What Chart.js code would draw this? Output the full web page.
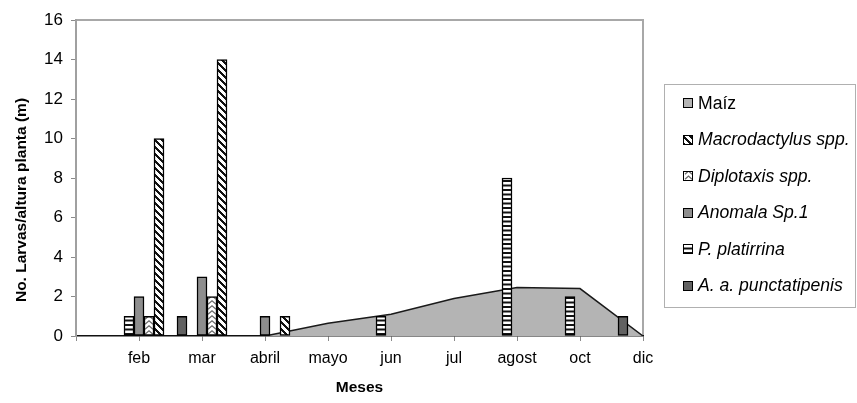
<!DOCTYPE html>
<html>
<head>
<meta charset="utf-8">
<script src="https://cdn.jsdelivr.net/npm/chart.js@4.4.1/dist/chart.umd.min.js"></script>
<style>
  html, body { margin: 0; padding: 0; background: #fff; }
  #wrap { width: 857px; height: 403px; }
</style>
</head>
<body>
<div id="wrap"><canvas id="c" width="857" height="403"></canvas></div>
<script>
// Months on the category axis (the first slot is left blank)
const months = ['', 'feb', 'mar', 'abril', 'mayo', 'jun', 'jul', 'agost', 'oct', 'dic'];

// Maize plant height curve (area)
const maiz = [null, null, null, 0, 0.65, 1.1, 1.9, 2.45, 2.4, 0];

// Larvae counts per species
const macrodactylus = [null, 10, 14, 1, null, null, null, null, null, null];
const diplotaxis    = [null, 1, 2, null, null, null, null, null, null, null];
const anomala       = [null, 2, 3, 1, null, null, null, null, null, null];
const platirrina    = [null, 1, null, null, null, 1, null, 8, 2, null];
const punctatipenis = [null, null, 1, null, null, null, null, null, null, 1];

const yTicks = [0, 2, 4, 6, 8, 10, 12, 14, 16];

const FONT = '"Liberation Sans", Arial, Helvetica, sans-serif';
const yTitle = 'No. Larvas/altura planta (m)';
const xTitle = 'Meses';

const canvas = document.getElementById('c');
const ctx = canvas.getContext('2d');

// ---- fill patterns ----
function makeTile(w, h, paint) {
  const t = document.createElement('canvas');
  t.width = w; t.height = h;
  const g = t.getContext('2d');
  g.fillStyle = '#fff';
  g.fillRect(0, 0, w, h);
  paint(g);
  return ctx.createPattern(t, 'repeat');
}
// horizontal stripes
const hStripes = makeTile(1, 9, g => {
  g.fillStyle = '#111';
  g.fillRect(0, 0, 1, 2);
  g.fillRect(0, 4.5, 1, 2);
});
// wide downward diagonal
const diagStripes = makeTile(7, 7, g => {
  g.fillStyle = '#111';
  for (let y = 0; y < 7; y++) {
    for (let x = 0; x < 7; x++) {
      const d = (((x - y) % 7) + 7) % 7;
      if (d < 3) g.fillRect(x, y, 1, 1);
    }
  }
});
// stacked chevrons, one column per month slot
const chevrons = makeTile(63, 5, g => {
  g.strokeStyle = '#6a6a6a';
  g.lineWidth = 1.2;
  g.beginPath();
  g.moveTo(19, 4.3);
  g.lineTo(23, 0.8);
  g.lineTo(27, 4.3);
  g.stroke();
});
// small chevron tile for the legend key
const chevronKey = makeTile(9, 5, g => {
  g.strokeStyle = '#6a6a6a';
  g.lineWidth = 1.2;
  g.beginPath();
  g.moveTo(1, 4.3);
  g.lineTo(4.5, 1);
  g.lineTo(8, 4.3);
  g.stroke();
});

const barCommon = {
  type: 'bar',
  borderColor: '#000',
  borderWidth: 1.5,
  borderSkipped: false,
  barThickness: 10
};

// bar slots run left to right in this order; the area is last so it sits behind
const datasets = [
  Object.assign({ label: 'A. a. punctatipenis', data: punctatipenis, backgroundColor: '#626262', italic: true }, barCommon),
  Object.assign({ label: 'P. platirrina', data: platirrina, backgroundColor: hStripes, italic: true }, barCommon),
  Object.assign({ label: 'Anomala Sp.1', data: anomala, backgroundColor: '#8e8e8e', italic: true }, barCommon),
  Object.assign({ label: 'Diplotaxis spp.', data: diplotaxis, backgroundColor: chevrons, keyFill: chevronKey, italic: true }, barCommon),
  Object.assign({ label: 'Macrodactylus spp.', data: macrodactylus, backgroundColor: diagStripes, italic: true }, barCommon),
  {
    type: 'line',
    label: 'Maíz',
    data: maiz,
    backgroundColor: '#b4b4b4',
    borderColor: '#1a1a1a',
    borderWidth: 1.5,
    fill: 'origin',
    tension: 0,
    pointRadius: 0,
    spanGaps: false,
    italic: false
  }
];

const legendOrder = ['Maíz', 'Macrodactylus spp.', 'Diplotaxis spp.', 'Anomala Sp.1', 'P. platirrina', 'A. a. punctatipenis'];

// white page + light frame round the plot area
const frame = {
  id: 'frame',
  beforeDraw(chart) {
    const c = chart.ctx, a = chart.chartArea;
    c.save();
    c.fillStyle = '#fff';
    c.fillRect(0, 0, chart.width, chart.height);
    c.strokeStyle = '#a8a8a8';
    c.lineWidth = 2;
    c.beginPath();
    c.moveTo(a.left, a.top);
    c.lineTo(a.right, a.top);
    c.lineTo(a.right, a.bottom);
    c.stroke();
    c.restore();
  }
};

// rotated value-axis caption
const yCaption = {
  id: 'yCaption',
  afterDraw(chart) {
    const c = chart.ctx;
    c.save();
    c.translate(22, 200);
    c.rotate(-Math.PI / 2);
    c.font = 'bold 15.5px ' + FONT;
    c.fillStyle = '#000';
    c.textAlign = 'center';
    c.textBaseline = 'middle';
    c.fillText(yTitle, 0, 0);
    c.restore();
  }
};

// boxed legend on the right
const boxLegend = {
  id: 'boxLegend',
  afterDraw(chart) {
    const c = chart.ctx;
    const box = { x: 664.5, y: 84.5, w: 191, h: 223 };
    c.save();
    c.strokeStyle = '#b0b0b0';
    c.lineWidth = 1;
    c.strokeRect(box.x, box.y, box.w, box.h);
    const ds = chart.data.datasets;
    legendOrder.forEach((name, i) => {
      const d = ds.find(s => s.label === name);
      const cy = 102.7 + i * 36.5;
      const sx = 683, sy = Math.round(cy - 4.5);
      c.fillStyle = d.keyFill || d.backgroundColor;
      c.fillRect(sx, sy, 9, 9);
      c.strokeStyle = '#000';
      c.lineWidth = 1;
      c.strokeRect(sx + 0.5, sy + 0.5, 9, 9);
      c.fillStyle = '#000';
      c.font = (d.italic ? 'italic ' : '') + '17.6px ' + FONT;
      c.textAlign = 'left';
      c.textBaseline = 'middle';
      c.fillText(name, 698, cy + 1);
    });
    c.restore();
  }
};

Chart.defaults.font.family = FONT;

new Chart(canvas, {
  data: { labels: months, datasets },
  options: {
    responsive: false,
    animation: false,
    devicePixelRatio: 1,
    layout: { padding: { left: 0, top: 20, right: 214, bottom: 0 } },
    plugins: { legend: { display: false }, tooltip: { enabled: false } },
    scales: {
      x: {
        type: 'category',
        offset: false,
        grid: { offset: false, drawOnChartArea: false, drawTicks: true, tickLength: 5, color: '#8a8a8a' },
        border: { color: '#111', width: 1.5 },
        ticks: { color: '#000', font: { size: 16 }, maxRotation: 0, autoSkip: false, padding: 8 },
        title: { display: true, text: xTitle, color: '#000', font: { size: 15.5, weight: 'bold' }, padding: { top: 0, bottom: 6 } },
        afterFit(scale) { scale.height = 67; }
      },
      y: {
        type: 'linear',
        min: 0,
        max: 16,
        afterBuildTicks(scale) { scale.ticks = yTicks.map(v => ({ value: v })); },
        grid: { drawOnChartArea: false, drawTicks: true, tickLength: 5, color: '#8a8a8a' },
        border: { color: '#a0a0a0', width: 2 },
        ticks: { color: '#000', font: { size: 17 }, padding: 8 },
        afterFit(scale) { scale.width = 76; }
      }
    }
  },
  plugins: [frame, yCaption, boxLegend]
});
</script>
</body>
</html>
